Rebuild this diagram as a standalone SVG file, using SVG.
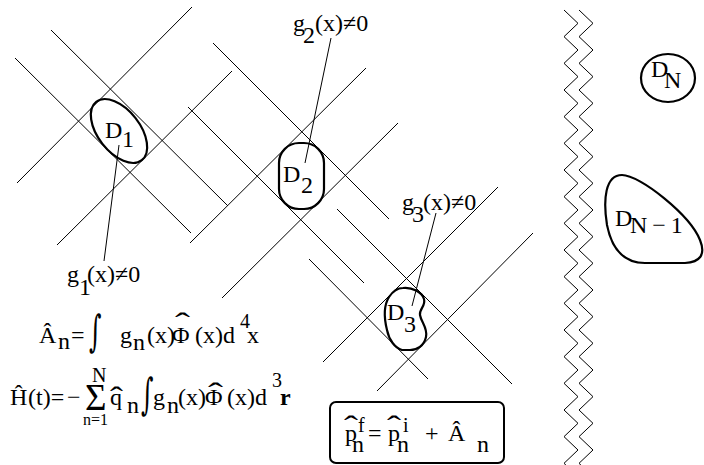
<svg xmlns="http://www.w3.org/2000/svg" width="704" height="465" viewBox="0 0 704 465">
<style>
text{font-family:'Liberation Serif','Times New Roman',serif;font-size:24px;fill:#000}
.ln{stroke:#000;stroke-width:1;fill:none}
.dom{stroke:#000;stroke-width:2.2;fill:none}
.s16{font-size:16px}
.s20{font-size:20px}
.big{font-size:37px}
.hat{font-size:30px}
.int{font-family:'DejaVu Serif',serif}
</style>
<defs>
<path id="zig" d="M564,10l14,13.333l-14,13.333l14,13.333l-14,13.333l14,13.333l-14,13.333l14,13.333l-14,13.333l14,13.333l-14,13.333l14,13.333l-14,13.333l14,13.333l-14,13.333l14,13.333l-14,13.333l14,13.333l-14,13.333l14,13.333l-14,13.333l14,13.333l-14,13.333l14,13.333l-14,13.333l14,13.333l-14,13.333l14,13.333l-14,13.333l14,13.333l-14,13.333l14,13.333l-14,13.333l14,13.333l-14,13.333l14,13.333l-14,13.333"/>
</defs>
<rect width="704" height="465" fill="#fff"/>

<g id="lattice" class="ln">
<line x1="17" y1="183" x2="192" y2="7"/>
<line x1="15" y1="58" x2="191" y2="233"/>
<line x1="51" y1="30" x2="228" y2="206"/>
<line x1="57" y1="245" x2="232" y2="71"/>
<line x1="188" y1="107" x2="364" y2="283"/>
<line x1="213" y1="43" x2="389" y2="219"/>
<line x1="190" y1="243" x2="366" y2="68"/>
<line x1="222" y1="298" x2="398" y2="123"/>
<line x1="337" y1="209" x2="512" y2="384"/>
<line x1="309" y1="259" x2="428" y2="379"/>
<line x1="323" y1="362" x2="498" y2="187"/>
<line x1="377" y1="391" x2="533" y2="233"/>
</g>

<g id="wall" class="ln">
<use href="#zig"/>
<use href="#zig" transform="translate(15,0)"/>
</g>

<g id="connectors" class="ln">
<line x1="119" y1="145" x2="104" y2="261"/>
<line x1="331" y1="38" x2="305" y2="163"/>
<line x1="436" y1="213" x2="412" y2="306"/>
</g>

<g id="D1">
<ellipse class="dom" cx="119" cy="131" rx="37" ry="21" transform="rotate(52 119 131)"/>
<text x="105" y="138">D</text><text x="122" y="147">1</text>
</g>

<g id="D2">
<rect class="dom" x="279" y="143" width="45" height="66" rx="20" ry="20"/>
<text x="283" y="182">D</text><text x="301" y="193">2</text>
</g>

<g id="D3">
<path class="dom" d="M403,288C412,287 422,292 424,299C426,306 419,309 420,315C421,322 428,328 426,337C424,346 417,350 410,350L402,350C395,348 389,340 387,330C384,318 384,305 389,297C393,291 397,288 403,288Z"/>
<text x="387" y="320">D</text><text x="404" y="332">3</text>
</g>

<g id="DN">
<ellipse class="dom" cx="668" cy="78" rx="27" ry="24"/>
<text x="651" y="77">D</text><text x="664" y="88" font-size="28">N</text>
</g>

<g id="DN-1">
<path class="dom" d="M622,175C640,175 690,215 700,240C706,255 700,262 685,263L645,263C625,263 612,250 607,225C603,200 605,175 622,175Z"/>
<text x="615" y="226">D</text><text x="630" y="233" font-size="26" letter-spacing="5">N−1</text>
</g>

<g id="g1">
<text x="67" y="282">g</text><text x="79" y="295">1</text><text x="87" y="282">(x)≠0</text>
</g>
<g id="g2">
<text x="293" y="31">g</text><text x="303" y="43">2</text><text x="315" y="31">(x)≠0</text>
</g>
<g id="g3">
<text x="402" y="210">g</text><text x="412" y="222">3</text><text x="423" y="210">(x)≠0</text>
</g>

<g id="formula-A">
<text x="39" y="343">Â</text>
<text x="58" y="349">n</text>
<text x="71" y="343">=</text>
<text class="int" transform="translate(89,346) scale(1,1.8)" x="0" y="0" font-size="36">∫</text>
<text x="120" y="343">g</text>
<text x="133" y="350">n</text>
<text x="147" y="343">(x)</text>
<text x="172" y="343">Φ</text>
<text class="hat" x="175" y="333" textLength="15" lengthAdjust="spacingAndGlyphs">ˆ</text>
<text x="195" y="343">(x)d</text>
<text class="s20" x="240" y="328">4</text>
<text x="247" y="343">x</text>
</g>

<g id="formula-H">
<text x="10" y="405">Ĥ</text>
<text x="28" y="405">(t)=</text>
<text x="67" y="405">−</text>
<text class="big" x="85" y="410">Σ</text>
<text class="s20" x="92" y="382">N</text>
<text class="s16" x="83" y="425">n=1</text>
<text x="110" y="405">q</text>
<text class="hat" x="110" y="407" textLength="13" lengthAdjust="spacingAndGlyphs">ˆ</text>
<text x="127" y="413">n</text>
<text class="int" transform="translate(141,409) scale(1,1.8)" x="0" y="0" font-size="32">∫</text>
<text x="153" y="405">g</text>
<text x="167" y="413">n</text>
<text x="178" y="405">(x)</text>
<text x="205" y="405">Φ</text>
<text class="hat" x="208" y="403" textLength="15" lengthAdjust="spacingAndGlyphs">ˆ</text>
<text x="227" y="405">(x)d</text>
<text class="s20" x="272" y="387">3</text>
<text x="280" y="405" font-weight="bold">r</text>
</g>

<g id="result-box">
<rect x="330" y="402" width="174" height="61" rx="6" ry="6" fill="none" stroke="#000" stroke-width="2"/>
<text x="345" y="441">p</text>
<text class="hat" x="344" y="436" textLength="14" lengthAdjust="spacingAndGlyphs">ˆ</text>
<text class="s20" x="358" y="432">f</text>
<text x="352" y="452">n</text>
<text x="368" y="441">=</text>
<text x="388" y="441">p</text>
<text class="hat" x="387" y="436" textLength="14" lengthAdjust="spacingAndGlyphs">ˆ</text>
<text class="s20" x="403" y="432">i</text>
<text x="397" y="452">n</text>
<text x="425" y="441">+</text>
<text x="448" y="441">Â</text>
<text x="477" y="452">n</text>
</g>
</svg>
